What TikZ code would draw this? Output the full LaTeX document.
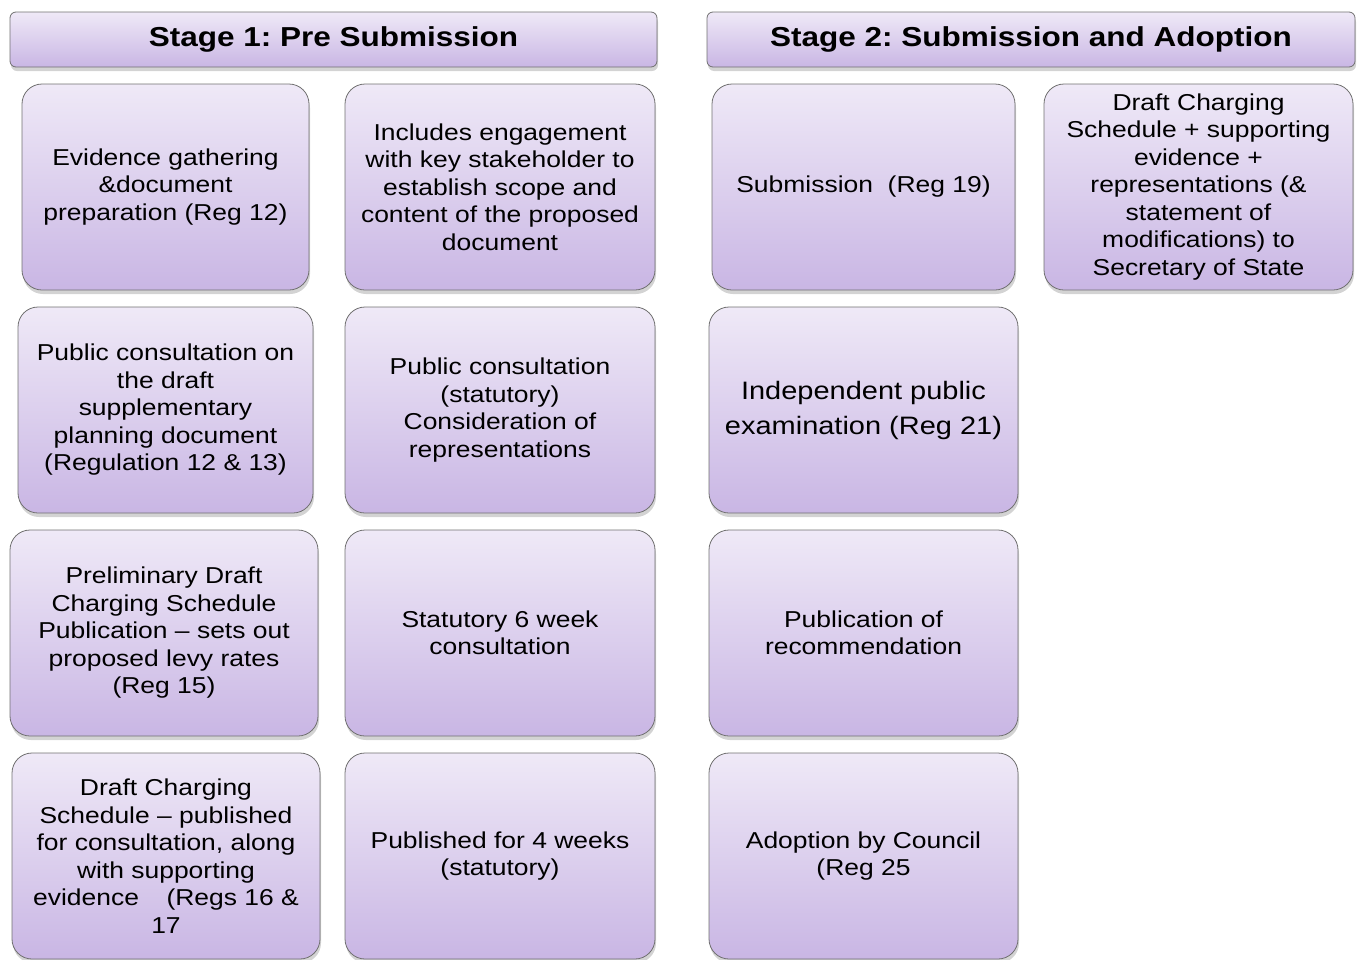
\documentclass[tikz,border=0pt]{standalone}
\usepackage{fontspec}
\setmainfont[FakeStretch=1.15]{Liberation Sans}
\usepackage{xcolor}
\usepackage{tikz}
\usetikzlibrary{shadows}

\definecolor{lilactop}{HTML}{EFE9F7}
\definecolor{lilacbot}{HTML}{C9B6E4}
\definecolor{boxedge}{HTML}{707070}
\frenchspacing

\begin{document}
\begin{tikzpicture}[x=1pt,y=1pt,
  stage/.style={draw=boxedge, line width=0.8pt, rounded corners=6pt,
    top color=lilactop, bottom color=lilacbot,
    drop shadow={shadow xshift=1pt, shadow yshift=-4pt, opacity=0.35},
    minimum height=55pt, font=\bfseries\fontsize{27.4}{32}\selectfont},
  task/.style={draw=boxedge, line width=0.8pt, rounded corners=20pt,
    top color=lilactop, bottom color=lilacbot,
    drop shadow={shadow xshift=1pt, shadow yshift=-4pt, opacity=0.35},
    minimum height=206pt, align=center,
    font=\fontsize{23}{27.5}\selectfont}]
  \useasboundingbox (0,0) rectangle (1360,-959);

  \node[stage, minimum width=647pt] (stage1) at (333.5,-39.5) {Stage 1: Pre Submission};
  \node[stage, minimum width=648pt] (stage2) at (1031,-39.5) {Stage 2: Submission and Adoption};

  \node[task, minimum width=287pt] (evidence) at (165.5,-187)
    {Evidence gathering\\ \&document\\ preparation (Reg 12)};
  \node[task, minimum width=310pt] (engage) at (500,-187)
    {Includes engagement\\ with key stakeholder to\\ establish scope and\\ content of the proposed\\ document};
  \node[task, minimum width=303pt] (submit) at (863.5,-187)
    {Submission\ \ (Reg 19)};
  \node[task, minimum width=309pt] (sos) at (1198.5,-187)
    {Draft Charging\\ Schedule + supporting\\ evidence +\\ representations (\&\\ statement of\\ modifications) to\\ Secretary of State};

  \node[task, minimum width=295pt] (spd) at (165.5,-410)
    {Public consultation on\\ the draft\\ supplementary\\ planning document\\ (Regulation 12 \& 13)};
  \node[task, minimum width=310pt] (reps) at (500,-410)
    {Public consultation\\ (statutory)\\ Consideration of\\ representations};
  \node[task, minimum width=309pt, font=\fontsize{25.2}{35}\selectfont] (exam) at (863.5,-410)
    {Independent public\\ examination (Reg 21)};

  \node[task, minimum width=308pt] (pdcs) at (164,-633)
    {Preliminary Draft\\ Charging Schedule\\ Publication -- sets out\\ proposed levy rates\\ (Reg 15)};
  \node[task, minimum width=310pt] (sixweek) at (500,-633)
    {Statutory 6 week\\ consultation};
  \node[task, minimum width=309pt] (recommend) at (863.5,-633)
    {Publication of\\ recommendation};

  \node[task, minimum width=308pt] (dcs) at (166,-856)
    {Draft Charging\\ Schedule -- published\\ for consultation, along\\ with supporting\\ evidence\hspace{1.2em}(Regs 16 \&\\ 17};
  \node[task, minimum width=310pt] (fourweek) at (500,-856)
    {Published for 4 weeks\\ (statutory)};
  \node[task, minimum width=309pt] (adopt) at (863.5,-856)
    {Adoption by Council\\ (Reg 25};
\end{tikzpicture}
\end{document}
